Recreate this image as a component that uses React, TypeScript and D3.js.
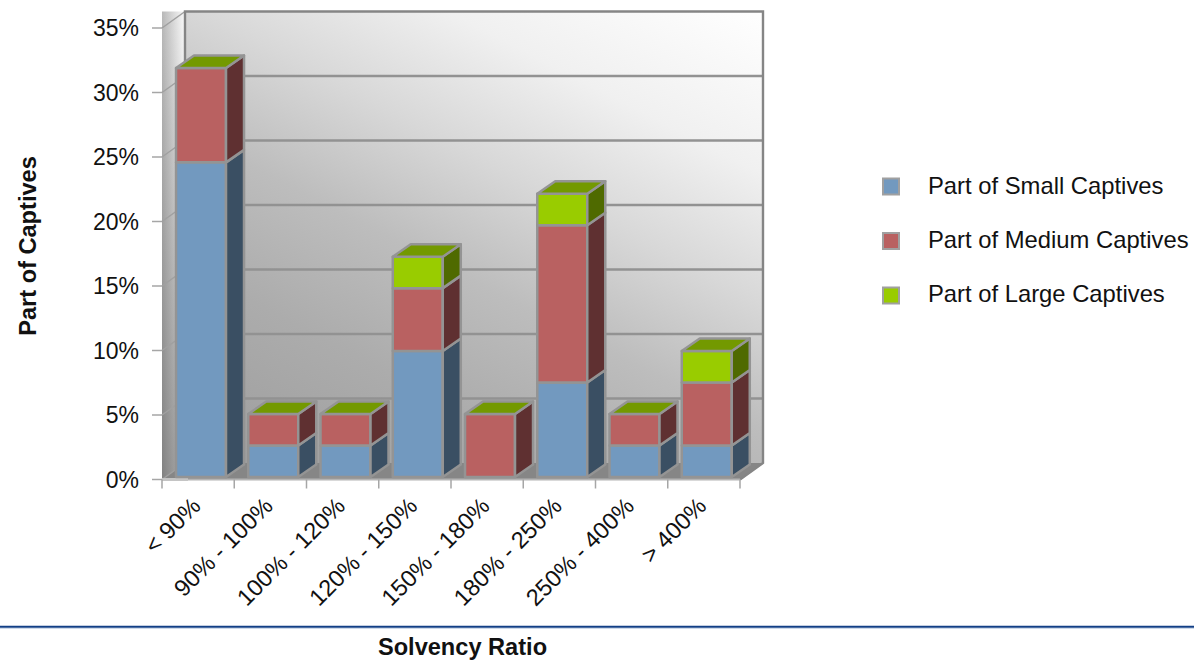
import React from "react";
import * as d3 from "d3";

const categories = ["< 90%", "90% - 100%", "100% - 120%", "120% - 150%", "150% - 180%", "180% - 250%", "250% - 400%", "> 400%"];
const smallValues = [24.39, 2.44, 2.44, 9.76, 0, 7.32, 2.44, 2.44];
const mediumValues = [7.32, 2.44, 2.44, 4.88, 4.88, 12.2, 2.44, 4.88];
const largeValues = [0, 0, 0, 2.44, 0, 2.44, 0, 2.44];
const yTicks = [0, 5, 10, 15, 20, 25, 30, 35];
const seriesNames = ["Part of Small Captives", "Part of Medium Captives", "Part of Large Captives"];
const frontColors = ["#7299bf", "#b96161", "#99cc00"];
const sideColors = ["#3a4f63", "#5f3031", "#4f6a00"];
const topColor = "#739900";
const edgeColor = "#949494";
const FONT = "'Liberation Sans', Arial, sans-serif";

const width = 1194;
const height = 661;
const plotLeft = 162;
const plotRight = 740;
const wallDx = 23;
const wallDy = 16.5;
const barDx = 18;
const barDy = 12.5;
const barLift = 2.5;

const x = d3.scaleBand<string>().domain(categories).range([plotLeft, plotRight]).paddingInner(0.308).paddingOuter(0.154).align(0.63);
const y = d3.scaleLinear().domain([0, 35]).range([479.5, 28]);

const table = categories.map((c, i) => ({ category: c, small: smallValues[i], medium: mediumValues[i], large: largeValues[i] }));
const stacked = d3.stack<any>().keys(["small", "medium", "large"])(table);

const poly = (pts: [number, number][]) => d3.line()(pts) + "Z";

export default function App() {
  const backTop = y(35) - wallDy;
  const backBottom = y(0) - wallDy;
  const backLeft = plotLeft + wallDx;
  const backRight = plotRight + wallDx;
  const w = x.bandwidth();

  return (
    <svg width={width} height={height} style={{ position: "absolute", left: 0, top: 0, background: "#fff" }} fontFamily={FONT}>
      <defs>
        <linearGradient id="wall" gradientUnits="userSpaceOnUse" x1={185} y1={463} x2={492} y2={-131}>
          <stop offset="0" stopColor="#9c9c9c" />
          <stop offset="0.26" stopColor="#acacac" />
          <stop offset="0.44" stopColor="#bdbdbd" />
          <stop offset="0.61" stopColor="#d8d8d8" />
          <stop offset="0.78" stopColor="#f0f0f0" />
          <stop offset="1" stopColor="#ffffff" />
        </linearGradient>
        <linearGradient id="side" x1="0" y1="0" x2="1" y2="0">
          <stop offset="0" stopColor="#b8b8b8" />
          <stop offset="1" stopColor="#fbfbfb" />
        </linearGradient>
        <linearGradient id="sideShade" x1="0" y1="0" x2="0" y2="1">
          <stop offset="0" stopColor="#000" stopOpacity="0" />
          <stop offset="1" stopColor="#000" stopOpacity="0.3" />
        </linearGradient>
      </defs>

      {/* left wall */}
      <rect x={plotLeft} y={backTop} width={wallDx} height={y(0) - backTop} fill="url(#side)" />
      <rect x={plotLeft} y={backTop} width={wallDx} height={y(0) - backTop} fill="url(#sideShade)" />

      {/* back wall */}
      <rect x={backLeft} y={backTop} width={backRight - backLeft} height={backBottom - backTop} fill="url(#wall)" />

      {/* floor */}
      <path
        d={poly([[plotLeft, y(0)], [backLeft, backBottom], [backRight, backBottom], [plotRight, y(0)]])}
        fill="#868686"
      />

      {/* gridlines across both walls */}
      {yTicks.map((t) => (
        <g key={t}>
          <line x1={plotLeft - 10} x2={plotLeft} y1={y(t)} y2={y(t)} stroke="#a6a6a6" strokeWidth={1.5} />
          <line x1={plotLeft} y1={y(t)} x2={backLeft} y2={y(t) - wallDy} stroke="#a0a0a0" strokeWidth={1.5} />
          {t > 0 && t < 35 && (
            <line x1={backLeft} x2={backRight} y1={y(t) - wallDy} y2={y(t) - wallDy} stroke="#929292" strokeWidth={2.4} />
          )}
          <text x={139} y={y(t)} dy="0.35em" textAnchor="end" fontSize={23} fill="#111">{t}%</text>
        </g>
      ))}

      {/* wall outline */}
      <path
        d={`M${backLeft},${backBottom}V${backTop}H${backRight}V${backBottom}L${plotRight},${y(0)}`}
        fill="none"
        stroke="#858585"
        strokeWidth={2.4}
      />
      <line x1={plotLeft} x2={plotRight} y1={y(0)} y2={y(0)} stroke="#b4b4b4" strokeWidth={2} />
      <line x1={plotLeft} x2={backLeft + 3} y1={y(0)} y2={y(0)} stroke="#c4c4c4" strokeWidth={3} />

      {/* category ticks */}
      {d3.range(categories.length + 1).map((i) => {
        const px = plotLeft + (i * (plotRight - plotLeft)) / categories.length;
        return <line key={i} x1={px} x2={px} y1={y(0)} y2={y(0) + 9} stroke="#a6a6a6" strokeWidth={1.5} />;
      })}

      {/* stacked bars, drawn bottom segment first */}
      {categories.map((c, i) => {
        const bx = x(c) as number;
        const segs = stacked.filter((s) => s[i][1] > s[i][0]);
        const topSeg = segs[segs.length - 1];
        const topY = y(topSeg[i][1]) - barLift;
        return (
          <g key={c} stroke={edgeColor} strokeWidth={2.5} strokeLinejoin="round">
            {segs.map((s) => {
              const k = stacked.indexOf(s);
              const y0 = y(s[i][0]) - barLift;
              const y1 = y(s[i][1]) - barLift;
              return (
                <g key={s.key}>
                  <rect x={bx} y={y1} width={w} height={y0 - y1} fill={frontColors[k]} />
                  <path
                    d={poly([[bx + w, y0], [bx + w + barDx, y0 - barDy], [bx + w + barDx, y1 - barDy], [bx + w, y1]])}
                    fill={sideColors[k]}
                  />
                </g>
              );
            })}
            <path
              d={poly([[bx, topY], [bx + barDx, topY - barDy], [bx + w + barDx, topY - barDy], [bx + w, topY]])}
              fill={topColor}
            />
          </g>
        );
      })}

      {/* category labels */}
      {categories.map((c) => {
        const px = (x(c) as number) + w / 2 + 1;
        return (
          <text key={c} transform={`translate(${px},${y(0) + 28}) rotate(-45)`} textAnchor="end" fontSize={23.5} fill="#111">
            {c}
          </text>
        );
      })}

      {/* axis titles */}
      <text transform="translate(36,246) rotate(-90)" textAnchor="middle" fontSize={23.6} fontWeight="bold" fill="#111">Part of Captives</text>
      <text x={462.5} y={655} textAnchor="middle" fontSize={23.6} fontWeight="bold" fill="#111">Solvency Ratio</text>

      {/* rule above the x title */}
      <line x1={0} x2={width} y1={628.4} y2={628.4} stroke="#c9d6e8" strokeWidth={1} />
      <line x1={0} x2={width} y1={626.8} y2={626.8} stroke="#123f86" strokeWidth={2} />

      {/* legend */}
      {seriesNames.map((name, i) => {
        const cy = 186.5 + i * 54.5;
        return (
          <g key={name}>
            <rect x={883} y={cy - 8} width={16} height={16} fill={frontColors[i]} stroke="#a0a0a0" strokeWidth={2} />
            <text x={928} y={186 + i * 54} dy="0.35em" fontSize={23.8} fill="#111">{name}</text>
          </g>
        );
      })}
    </svg>
  );
}
